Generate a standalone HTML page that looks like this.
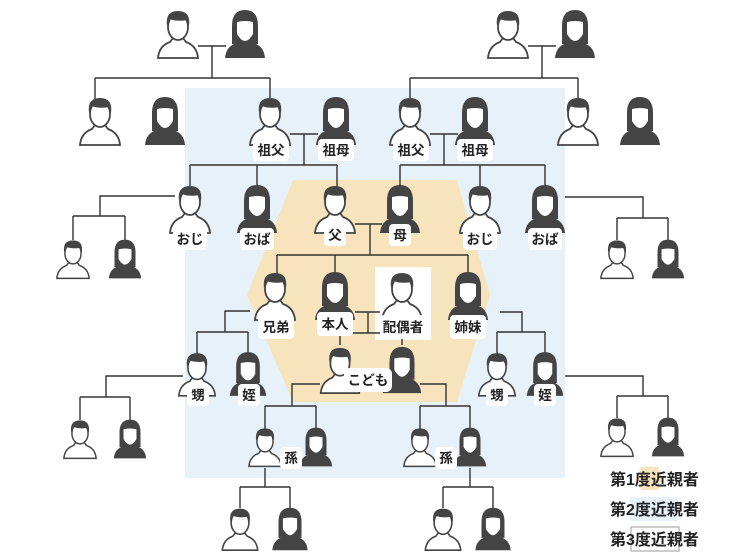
<!DOCTYPE html>
<html><head><meta charset="utf-8"><style>
html,body{margin:0;padding:0;background:#fff;}
svg{display:block}
text{font-family:"Liberation Sans","Noto Sans CJK JP",sans-serif;font-weight:bold;font-size:13.5px;fill:#222;}
.lg{font-size:16px}
</style></head><body>
<svg width="736" height="557" viewBox="0 0 736 557" xmlns="http://www.w3.org/2000/svg">
<defs>
<symbol id="m" viewBox="0 0 44 52" overflow="visible">
<path d="M2 50 Q3 38 14 34 L17 30 L27 30 L30 34 Q41 38 42 50 Z" fill="#fff" stroke="#444" stroke-width="1.8"/>
<ellipse cx="22" cy="19" rx="10" ry="13" fill="#fff" stroke="#444" stroke-width="1.8"/>
<path d="M11 18 Q9 3 22 3 Q35 3 33 18 L31 12 Q22 14 13 11 Z" fill="#444"/>
</symbol>
<symbol id="f" viewBox="0 0 44 52" overflow="visible">
<path d="M9 36 L9 18 Q9 2 22 2 Q35 2 35 18 L35 36 Z" fill="#444"/>
<path d="M2 50 Q3 38 14 35 L30 35 Q41 38 42 50 Z" fill="#444"/>
<path d="M14 14 Q22 12 30 14 L30 26 Q26 33 22 33 Q18 33 14 26 Z" fill="#fff"/>
</symbol>
</defs>
<rect x="185" y="88" width="380" height="390" fill="#e6f1fa"/>
<polygon points="293,180 457,180 490,295 457,402 293,402 247,295" fill="#f8e4bc"/>
<rect x="375" y="267" width="56" height="73" fill="#fff"/>
<g stroke="#333" stroke-width="1.4" fill="none">
<path d="M198 46 H226 M212 46 V78 M95 78 H270 M95 78 V100 M270 78 V100"/>
<path d="M528 46 H556 M542 46 V78 M410 78 H578 M410 78 V100 M578 78 V100"/>
<path d="M290 134 H318 M304 134 V165 M190 165 H337 M190 165 V188 M257 165 V188 M337 165 V188"/>
<path d="M430 134 H458 M444 134 V165 M400 165 H545 M400 165 V188 M480 165 V188 M545 165 V188"/>
<path d="M355 224 H382 M370 224 V255 M277 255 H468 M277 255 V276 M335 255 V276 M468 255 V276"/>
<path d="M175 196 H100 V216 M73 216 H125 M73 216 V240 M125 216 V240"/>
<path d="M565 197 H643 V218 M617 218 H668 M617 218 V240 M668 218 V240"/>
<path d="M355 312 H380 M368 312 V333 M352 333 H380 M340 333 V345 M402 333 V345"/>
<path d="M250 311 H225 V332 M197 332 H248 M197 332 V354 M248 332 V354"/>
<path d="M500 312 H522 V332 M497 332 H545 M497 332 V354 M545 332 V354"/>
<path d="M183 376 H106 V397 M80 397 H130 M80 397 V420 M130 397 V420"/>
<path d="M565 376 H643 V396 M617 396 H668 M617 396 V418 M668 396 V418"/>
<path d="M320 384 H292 V406 M265 406 H316 M265 406 V430 M316 406 V430"/>
<path d="M420 384 H446 V406 M420 406 H470 M420 406 V430 M470 406 V430"/>
<path d="M265 468 V487 M240 487 H290 M240 487 V508 M290 487 V508"/>
<path d="M470 468 V487 M443 487 H493 M443 487 V508 M493 487 V508"/>
</g>
<use href="#m" x="156" y="8" width="44" height="52"/>
<use href="#f" x="223" y="8" width="44" height="52"/>
<use href="#m" x="486" y="8" width="44" height="52"/>
<use href="#f" x="553" y="8" width="44" height="52"/>
<use href="#m" x="78" y="95" width="44" height="52"/>
<use href="#f" x="143" y="95" width="44" height="52"/>
<use href="#m" x="248" y="95" width="44" height="52"/>
<use href="#f" x="314" y="95" width="44" height="52"/>
<use href="#m" x="388" y="95" width="44" height="52"/>
<use href="#f" x="453" y="95" width="44" height="52"/>
<use href="#m" x="556" y="95" width="44" height="52"/>
<use href="#f" x="618" y="95" width="44" height="52"/>
<use href="#m" x="168" y="183" width="44" height="52"/>
<use href="#f" x="235" y="183" width="44" height="52"/>
<use href="#m" x="313" y="183" width="44" height="52"/>
<use href="#f" x="378" y="183" width="44" height="52"/>
<use href="#m" x="458" y="183" width="44" height="52"/>
<use href="#f" x="523" y="183" width="44" height="52"/>
<use href="#m" x="52" y="238" width="42" height="42"/>
<use href="#f" x="104" y="238" width="42" height="42"/>
<use href="#m" x="596" y="238" width="42" height="42"/>
<use href="#f" x="647" y="238" width="42" height="42"/>
<use href="#m" x="253" y="270" width="44" height="52"/>
<use href="#f" x="313" y="270" width="44" height="52"/>
<use href="#m" x="380" y="270" width="44" height="52"/>
<use href="#f" x="446" y="270" width="44" height="52"/>
<use href="#m" x="177" y="350" width="40" height="48"/>
<use href="#f" x="228" y="350" width="40" height="48"/>
<use href="#m" x="318" y="345" width="44" height="50"/>
<use href="#f" x="380" y="345" width="44" height="50"/>
<use href="#m" x="477" y="350" width="40" height="48"/>
<use href="#f" x="525" y="350" width="40" height="48"/>
<use href="#m" x="59" y="418" width="42" height="42"/>
<use href="#f" x="109" y="418" width="42" height="42"/>
<use href="#m" x="596" y="416" width="42" height="42"/>
<use href="#f" x="647" y="416" width="42" height="42"/>
<use href="#m" x="245" y="426" width="40" height="42"/>
<use href="#f" x="296" y="426" width="40" height="42"/>
<use href="#m" x="400" y="426" width="40" height="42"/>
<use href="#f" x="450" y="426" width="40" height="42"/>
<use href="#m" x="219" y="506" width="42" height="46"/>
<use href="#f" x="269" y="506" width="42" height="46"/>
<use href="#m" x="422" y="506" width="42" height="46"/>
<use href="#f" x="472" y="506" width="42" height="46"/>
<g fill="#fff">
<rect x="253" y="139" width="36" height="22" rx="4"/><rect x="318" y="139" width="36" height="22" rx="4"/>
<rect x="393" y="139" width="36" height="22" rx="4"/><rect x="457" y="139" width="36" height="22" rx="4"/>
<rect x="173" y="228" width="34" height="22" rx="4"/><rect x="240" y="228" width="34" height="22" rx="4"/>
<rect x="324" y="224" width="22" height="22" rx="4"/><rect x="389" y="224" width="22" height="22" rx="4"/>
<rect x="463" y="228" width="34" height="22" rx="4"/><rect x="528" y="228" width="34" height="22" rx="4"/>
<rect x="258" y="315" width="36" height="24" rx="4"/><rect x="317" y="312" width="36" height="24" rx="4"/>
<rect x="380" y="315" width="46" height="24" rx="4"/><rect x="450" y="315" width="36" height="24" rx="4"/>
<rect x="187" y="384" width="22" height="22" rx="4"/><rect x="238" y="384" width="22" height="22" rx="4"/>
<rect x="344" y="368" width="48" height="24" rx="6"/>
<rect x="486" y="384" width="22" height="22" rx="4"/><rect x="534" y="384" width="22" height="22" rx="4"/>
<rect x="280" y="447" width="22" height="22" rx="4"/><rect x="435" y="447" width="22" height="22" rx="4"/>
</g>
<g text-anchor="middle">
<text x="271" y="155">祖父</text><text x="336" y="155">祖母</text>
<text x="411" y="155">祖父</text><text x="475" y="155">祖母</text>
<text x="190" y="244">おじ</text><text x="257" y="244">おば</text>
<text x="335" y="240">父</text><text x="400" y="240">母</text>
<text x="480" y="244">おじ</text><text x="545" y="244">おば</text>
<text x="276" y="332">兄弟</text><text x="335" y="329">本人</text>
<text x="403" y="332">配偶者</text><text x="468" y="332">姉妹</text>
<text x="198" y="400">甥</text><text x="249" y="400">姪</text>
<text x="368" y="385">こども</text>
<text x="497" y="400">甥</text><text x="545" y="400">姪</text>
<text x="291" y="463">孫</text><text x="446" y="463">孫</text>
</g>
<polygon points="641,467 658,467 662,478 658,490 641,490 637,478" fill="#f8e4bc"/>
<rect x="630" y="497" width="48" height="24" fill="#e6f1fa"/>
<rect x="631" y="527" width="48" height="24" fill="#fff" stroke="#999" stroke-width="1"/>
<text class="lg" x="610" y="485">第1度近親者</text>
<text class="lg" x="610" y="515">第2度近親者</text>
<text class="lg" x="610" y="545">第3度近親者</text>
</svg>
</body></html>
